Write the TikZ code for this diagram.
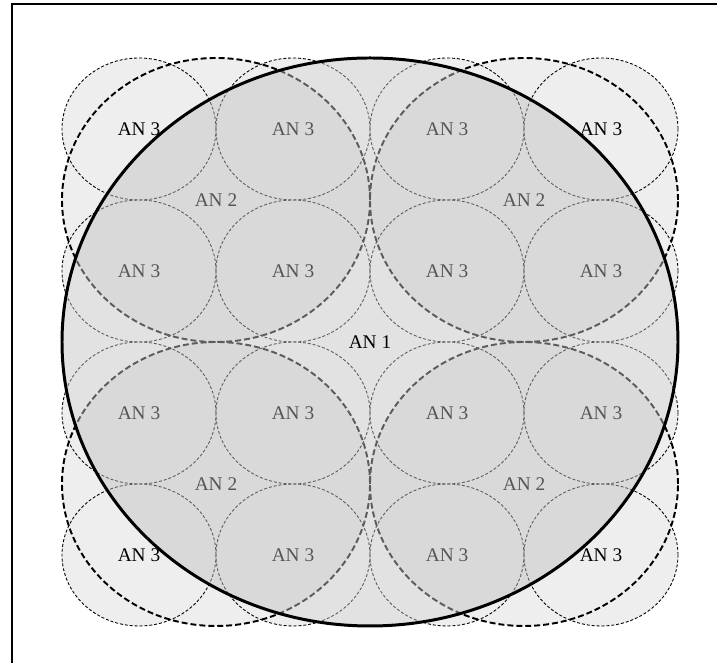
\documentclass[tikz,border=0pt]{standalone}
\usepackage{fontspec}
\setmainfont{Liberation Serif}
\definecolor{anlight}{HTML}{EEEEEE}
\definecolor{anfill}{HTML}{E2E2E2}
\definecolor{andark}{HTML}{D9D9D9}
\definecolor{anline}{HTML}{5C5C5C}
\definecolor{antext}{HTML}{555555}
\tikzset{
  cellline/.style={line width=0.5pt, dash pattern=on 1.7pt off 1.1pt},
  zoneline/.style={line width=1.1pt, dash pattern=on 3.4pt off 1.7pt},
  mainline/.style={line width=1.7pt},
  anlabel/.style={font=\fontsize{11}{13}\selectfont, inner sep=0pt},
}

\begin{document}
\begin{tikzpicture}[x=1.54cm, y=1.42cm]
  \useasboundingbox (-0.8052,-0.5211) rectangle (8.5065,8.8169);

  %% frame (only top and left edges show)
  \draw[line width=1.4pt] (-0.649,-0.7) -- (-0.649,8.761) -- (8.7,8.761);

  %% AN 3 cells and AN 2 zones, light fill where they leave AN 1
  \foreach \i in {1,3,5,7}
    \foreach \j in {1,3,5,7}
      \fill[anlight] (\i,\j) circle (1);
  \foreach \i/\j in {2/2,6/2,2/6,6/6}
    \fill[anlight] (\i,\j) circle (2);
  \foreach \i in {1,3,5,7}
    \foreach \j in {1,3,5,7}
      \draw[cellline] (\i,\j) circle (1);
  \foreach \i/\j in {2/2,6/2,2/6,6/6}
    \draw[zoneline] (\i,\j) circle (2);

  %% AN 1
  \fill[anfill] (4,4) circle (4);
  \begin{scope}
    \clip (4,4) circle (4);
    \foreach \i/\j in {2/2,6/2,2/6,6/6}
      \fill[andark] (\i,\j) circle (2);
    \foreach \i in {1,3,5,7}
      \foreach \j in {1,3,5,7}
        \draw[cellline, anline] (\i,\j) circle (1);
    \foreach \i/\j in {2/2,6/2,2/6,6/6}
      \draw[zoneline, anline] (\i,\j) circle (2);
  \end{scope}
  \draw[mainline] (4,4) circle (4);

  %% labels
  \foreach \i/\j in {3/7,5/7,1/5,3/5,5/5,7/5,1/3,3/3,5/3,7/3,3/1,5/1}
    \node[anlabel, text=antext] (an3-\i-\j) at (\i,\j) {AN 3};
  \foreach \i/\j in {1/7,7/7,1/1,7/1}
    \node[anlabel] (an3-\i-\j) at (\i,\j) {AN 3};
  \foreach \i/\j in {2/2,6/2,2/6,6/6}
    \node[anlabel, text=antext] (an2-\i-\j) at (\i,\j) {AN 2};
  \node[anlabel] (an1) at (4,4) {AN 1};

\end{tikzpicture}
\end{document}
